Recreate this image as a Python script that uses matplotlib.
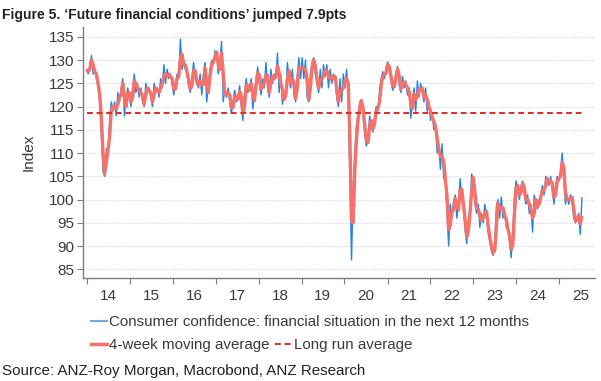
import numpy as np
import pandas as pd
import matplotlib
matplotlib.use('Agg')
from matplotlib import pyplot as plt
import matplotlib.dates as mdates
from matplotlib.lines import Line2D

# fortnightly readings of the weekly series, one list per year
y2014 = [128, 127, 129, 131, 127, 128, 126, 124, 121, 114, 106, 105, 111,
         110, 117, 121, 119, 121, 118, 123, 121, 124, 126, 118, 122, 124]
y2015 = [122, 120, 124, 127, 123, 125, 122, 124, 121, 120, 125, 123, 124,
         122, 120, 125, 123, 124, 122, 126, 124, 129, 125, 128, 126, 127]
y2016 = [125, 122.5, 125, 127, 126, 134.5, 128, 130, 128, 127, 124.5, 123, 126,
         129.5, 126, 125, 124, 127, 122.5, 127, 129.5, 121, 125, 128, 130, 129]
y2017 = [132, 131.5, 127, 129, 134, 121, 124, 122, 124, 121, 118.5, 121, 123.5,
         121, 122, 124.5, 120, 117, 123, 126, 123, 124, 126, 119.5, 123, 126]
y2018 = [128.5, 125, 122.5, 126, 124, 129.5, 124, 122, 128, 125, 127, 126, 131.5,
         123, 127, 120.5, 122.5, 122, 129.5, 126, 124, 128, 122.5, 121, 126.5, 130.5]
y2019 = [126, 130.5, 126, 130, 122, 121, 127, 129.5, 130.5, 127, 125, 123, 128,
         124, 129, 126.5, 129, 124, 128, 125, 127, 126, 122, 120, 126, 121]
y2020 = [127, 124, 128, 122, 104, 87, 103, 110, 116, 118.5, 121, 121.5, 118,
         114, 111.5, 113, 118, 116, 114.5, 118, 120, 119, 123, 126, 127.5, 126]
y2021 = [128.5, 129.6, 127.5, 125.5, 123.5, 125, 127.5, 128.6, 124.5, 123, 126.5, 124, 125.5,
         122.5, 124, 117.5, 121.5, 124, 119, 125.5, 122, 125, 123, 121, 124, 119]
y2022 = [121, 117, 118.5, 115, 116.5, 110, 112, 106.5, 112, 104.5, 104.5, 97, 90,
         99, 96, 99.5, 101, 96, 99.5, 104.5, 100, 98, 93.5, 90.5, 96, 98]
y2023 = [105.5, 104, 99, 97, 99, 94, 97, 95, 99, 96, 93, 91, 89,
         88, 90, 98.5, 100, 96, 100.5, 96, 97.5, 94, 93.5, 91, 87.5, 93]
y2024 = [101, 104, 102, 100, 103, 104, 101, 99, 101, 97, 99, 93, 101,
         99, 98, 100, 101, 103, 101, 105, 104, 103, 105, 102, 99, 103]
y2025 = [105, 104, 106, 110, 104, 99, 101, 99, 101, 100, 96, 95, 96,
         97, 92.5, 100.4]

long_run_avg = 118.6
year_labels = ['14', '15', '16', '17', '18', '19', '20', '21', '22', '23', '24', '25']

values = (y2014 + y2015 + y2016 + y2017 + y2018 + y2019 + y2020 + y2021
          + y2022 + y2023 + y2024 + y2025)
dates = pd.date_range('2013-12-29', periods=len(values), freq='14D')
series = pd.Series(values, index=dates)
ma = series.rolling(2, min_periods=1).mean()  # 2 fortnights = 4 weeks

plt.rcParams['font.family'] = ['Liberation Sans', 'DejaVu Sans']
plt.rcParams['font.size'] = 11

blue = '#2383E2'
red = '#F5716A'
dark_red = '#D8322D'
grey = '#7F7F7F'
txt = '#3A3A3A'

fig = plt.figure(figsize=(6.01, 3.81), dpi=100)
ax = fig.add_axes([0.138, 0.270, 0.852, 0.659])

ax.plot(series.index, series.values, color=blue, lw=1.0, zorder=3)
ax.plot(ma.index, ma.values, color=red, lw=2.4, zorder=4, solid_capstyle='butt')
ax.hlines(long_run_avg, dates[0], dates[-1], colors=dark_red, lw=1.5,
          linestyles=(0, (2.8, 1.8)), zorder=5)

ax.set_ylim(83.1, 137.1)
ax.set_xlim(pd.Timestamp('2013-11-28'), pd.Timestamp('2025-11-01'))
ax.set_yticks(np.arange(85, 136, 5))
ax.yaxis.grid(True, linestyle=(0, (1, 1.5)), color='#C9D3DE', lw=0.8)
ax.set_axisbelow(True)

ax.xaxis.set_major_locator(mdates.YearLocator())
ax.xaxis.set_major_formatter(plt.NullFormatter())
ax.set_xticks([pd.Timestamp(f'20{y}-07-01') for y in year_labels], minor=True)
ax.set_xticklabels(year_labels, minor=True)
ax.tick_params(axis='x', which='minor', length=0, pad=8, labelsize=11, labelcolor=txt)
ax.tick_params(axis='x', which='major', length=4, color=grey)
ax.tick_params(axis='y', length=4, color=grey, labelsize=11, labelcolor=txt, pad=2)

for s in ['top', 'right']:
    ax.spines[s].set_visible(False)
for s in ['left', 'bottom']:
    ax.spines[s].set_color(grey)
    ax.spines[s].set_linewidth(1.0)

ax.set_ylabel('Index', fontsize=11, color=txt, labelpad=10)

fig.text(0.004, 0.978, 'Figure 5. \u2018Future financial conditions\u2019 jumped 7.9pts',
         fontsize=10, fontweight='bold', color='#222222', va='top', ha='left')

h1 = [Line2D([], [], color='#6FA8E8', lw=1.5)]
fig.legend(h1, ['Consumer confidence: financial situation in the next 12 months'],
           loc='upper left', bbox_to_anchor=(0.151, 0.172), frameon=False,
           handlelength=1.05, handletextpad=0.15, borderpad=0, borderaxespad=0,
           prop={'size': 10.9}, labelcolor=txt)
h2 = [Line2D([], [], color=red, lw=2.5),
      Line2D([], [], color=dark_red, lw=1.5, linestyle=(0, (2.8, 1.8)))]
fig.legend(h2, ['4-week moving average', 'Long run average'], ncol=2,
           loc='upper left', bbox_to_anchor=(0.151, 0.112), frameon=False,
           handlelength=1.05, handletextpad=0.15, columnspacing=0.4,
           borderpad=0, borderaxespad=0, prop={'size': 10.9}, labelcolor=txt)

fig.text(0.004, 0.008, 'Source: ANZ-Roy Morgan, Macrobond, ANZ Research',
         fontsize=10.9, color='#222222', va='bottom', ha='left')

fig.savefig('out.png', dpi=100)
